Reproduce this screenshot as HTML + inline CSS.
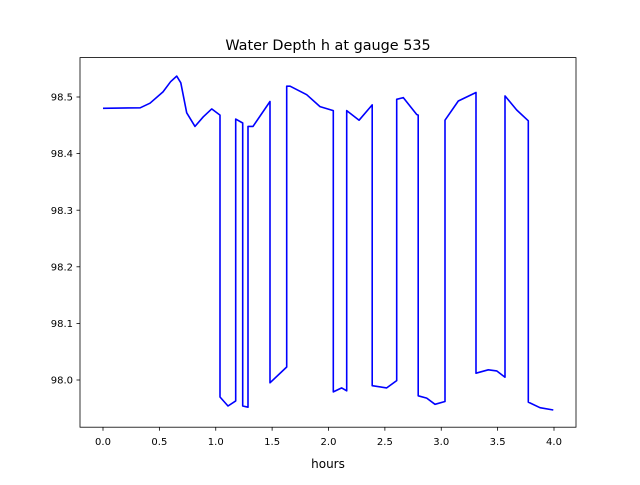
<!DOCTYPE html>
<html><head><meta charset="utf-8"><style>
body{margin:0;background:#fff;}
text{font-family:"DejaVu Sans","Liberation Sans",sans-serif;}
</style></head><body>
<svg id="chart" width="640" height="480" xmlns="http://www.w3.org/2000/svg">
<rect width="640" height="480" fill="#fff"/>
<text x="328" y="50" font-size="14.4" text-anchor="middle">Water Depth h at gauge 535</text>
<text x="328" y="468" font-size="12" text-anchor="middle">hours</text>
<g id="ticks"></g>
<polyline id="series" fill="none" stroke="#0000ff" stroke-width="1.6" stroke-linejoin="round"/>
<rect x="80" y="57.6" width="496" height="369.6" fill="none" stroke="#000" stroke-width="0.8"/>
</svg>
<script>
const hours=[0.0,0.33,0.417,0.532,0.6,0.654,0.69,0.742,0.816,0.89,0.964,1.038,1.038,1.109,1.177,1.177,1.239,1.239,1.286,1.286,1.33,1.481,1.481,1.629,1.629,1.659,1.807,1.925,2.043,2.043,2.117,2.161,2.161,2.271,2.388,2.388,2.516,2.605,2.605,2.663,2.782,2.796,2.796,2.871,2.945,3.033,3.033,3.151,3.308,3.308,3.417,3.492,3.565,3.565,3.669,3.772,3.772,3.876,3.994];
const depth=[98.480,98.481,98.489,98.509,98.527,98.537,98.525,98.472,98.448,98.465,98.479,98.468,97.970,97.954,97.963,98.461,98.454,97.954,97.952,98.448,98.448,98.492,97.995,98.023,98.519,98.519,98.504,98.483,98.476,97.979,97.986,97.981,98.476,98.459,98.486,97.990,97.986,97.999,98.496,98.499,98.469,98.468,97.972,97.968,97.957,97.962,98.459,98.493,98.508,98.012,98.018,98.016,98.005,98.502,98.477,98.458,97.961,97.951,97.947];
const xTicks=[0.0,0.5,1.0,1.5,2.0,2.5,3.0,3.5,4.0];
const yTicks=[98.0,98.1,98.2,98.3,98.4,98.5];
const xScale=h=>103+h*112.75;
const yScale=v=>97+(98.5-v)*566;
const ns="http://www.w3.org/2000/svg";
const g=document.getElementById('ticks');
function mk(tag,attrs){const e=document.createElementNS(ns,tag);for(const k in attrs)e.setAttribute(k,attrs[k]);return e;}
xTicks.forEach(t=>{
  const x=xScale(t);
  const l=mk('line',{x1:x,x2:x,y1:427.2,y2:430.7,stroke:'#000','stroke-width':0.8});
  
  
  g.appendChild(l);
  const tx=mk('text',{x:x,y:445,'font-size':10,'text-anchor':'middle'});
  
  
  tx.textContent=t.toFixed(1);g.appendChild(tx);
});
yTicks.forEach(t=>{
  const y=yScale(t);
  const l=mk('line',{x1:76.5,x2:80,y1:y,y2:y,stroke:'#000','stroke-width':0.8});
  
  
  g.appendChild(l);
  const tx=mk('text',{x:73,y:y+3.6,'font-size':10,'text-anchor':'end'});
  
  
  tx.textContent=t.toFixed(1);g.appendChild(tx);
});
document.getElementById('series').setAttribute('points',hours.map((h,i)=>xScale(h).toFixed(1)+','+yScale(depth[i]).toFixed(1)).join(' '));
</script>
</body></html>
